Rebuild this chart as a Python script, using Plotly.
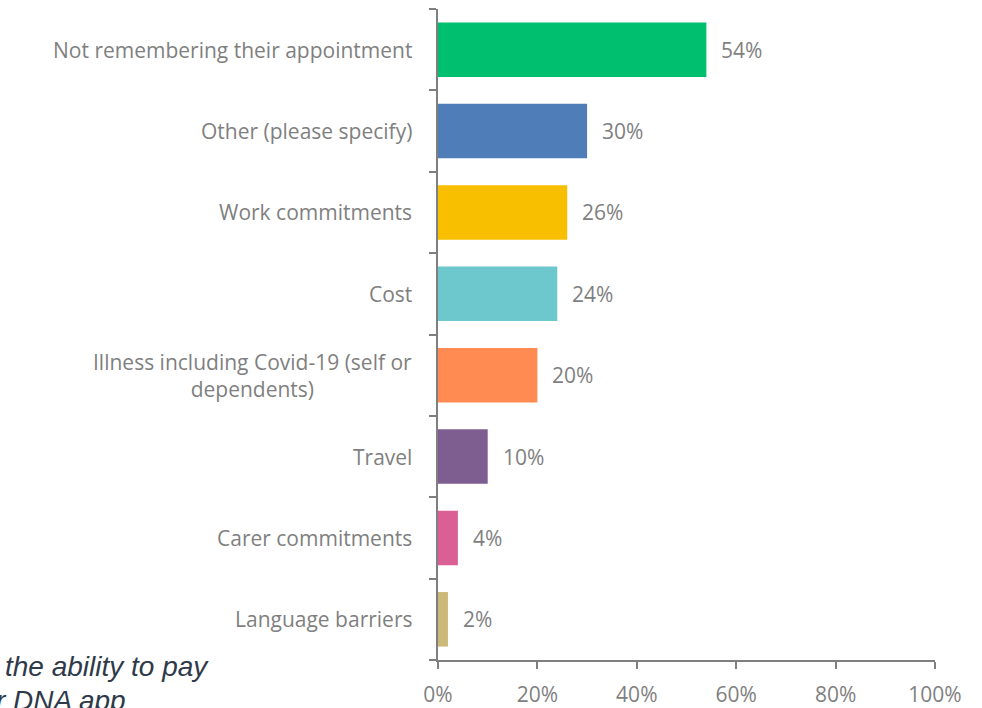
import plotly.graph_objects as go

# Reasons given for missed appointments (share of respondents, %)
categories = [
    "Not remembering their appointment",
    "Other (please specify)",
    "Work commitments",
    "Cost",
    "Illness including Covid-19 (self or<br>dependents)",
    "Travel",
    "Carer commitments",
    "Language barriers",
]
values = [54, 30, 26, 24, 20, 10, 4, 2]
colors = ["#00BF6F", "#4F7DB7", "#F7BF00", "#6CC8CC",
          "#FF8B52", "#7E5E91", "#DA5F94", "#CBB97A"]
x_ticks = [0, 20, 40, 60, 80, 100]
x_tick_labels = [f"{t}%" for t in x_ticks]

W, H = 982, 708
ML, MR, MT, MB = 438, 47, 9, 48
GRAY = "#7F7F7F"
FONT = "Open Sans"

fig = go.Figure(go.Bar(
    x=values,
    y=list(range(len(categories))),
    orientation="h",
    marker=dict(color=colors, line=dict(width=0)),
    width=0.67,
    hoverinfo="skip",
))

annotations = []
# value labels at the end of each bar
for i, v in enumerate(values):
    annotations.append(dict(
        x=v, y=i, xref="x", yref="y", text=f"{v}%",
        showarrow=False, xanchor="left", xshift=13,
        font=dict(family=FONT, size=21, color=GRAY),
    ))
# category labels, centred multi-line text right-aligned to the axis
for i, c in enumerate(categories):
    annotations.append(dict(
        x=0, y=i, xref="paper", yref="y", text=c,
        showarrow=False, xanchor="right", xshift=-24, align="center",
        font=dict(family=FONT, size=21, color=GRAY),
    ))

# caption fragments running off the lower-left edge
pw = W - ML - MR
ph = H - MT - MB
annotations.append(dict(
    x=(3 - ML) / pw, y=(H - MB - 666) / ph, xref="paper", yref="paper",
    text="<i>the ability to pay</i>", showarrow=False, xanchor="left",
    yanchor="middle",
    font=dict(family="Liberation Sans", size=28, color="#2E3A4A"),
))
annotations.append(dict(
    x=(-6 - ML) / pw, y=(H - MB - 700) / ph, xref="paper", yref="paper",
    text="<i>r DNA app</i>", showarrow=False, xanchor="left",
    yanchor="middle",
    font=dict(family="Liberation Sans", size=28, color="#2E3A4A"),
))

fig.update_layout(
    width=W, height=H,
    margin=dict(l=ML, r=MR, t=MT, b=MB, pad=0, autoexpand=False),
    paper_bgcolor="white", plot_bgcolor="white",
    showlegend=False,
    bargap=0.33,
    annotations=annotations,
    xaxis=dict(
        range=[0, 100], tickvals=x_ticks, ticktext=x_tick_labels,
        showgrid=False, zeroline=False, automargin=False,
        showline=True, linecolor=GRAY, linewidth=2,
        ticks="outside", ticklen=7, tickcolor=GRAY, tickwidth=2,
        ticklabelstandoff=8,
        tickfont=dict(family=FONT, size=21, color=GRAY),
        fixedrange=True,
    ),
    yaxis=dict(
        range=[len(categories) - 0.5, -0.5],
        tickvals=[i + 0.5 for i in range(-1, len(categories))],
        ticktext=[""] * (len(categories) + 1),
        showgrid=False, zeroline=False, automargin=False,
        showline=True, linecolor=GRAY, linewidth=2,
        ticks="outside", ticklen=7, tickcolor=GRAY, tickwidth=2,
        fixedrange=True,
    ),
)

fig.write_html("out.html")
